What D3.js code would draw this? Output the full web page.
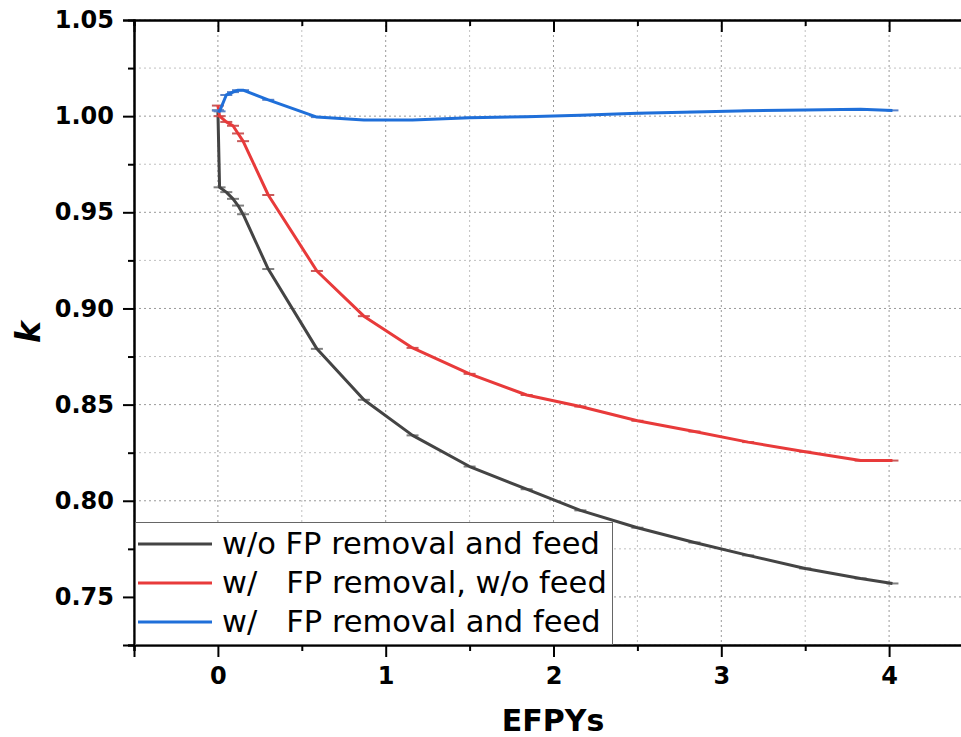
<!DOCTYPE html>
<html>
<head>
<meta charset="utf-8">
<script src="https://cdn.jsdelivr.net/npm/d3@7"></script>
<style>
  body { margin: 0; background: #fff; }
  svg { font-family: "DejaVu Sans", sans-serif; display: block; }
  .grid line { stroke-dasharray: 2,3; }
</style>
</head>
<body>
<svg id="chart" width="961" height="737"></svg>
<script>
// EFPYs shared by all three runs
var efpy = [0, 0.01, 0.05, 0.09, 0.12, 0.15, 0.3, 0.59, 0.87, 1.16, 1.5, 1.84, 2.16, 2.5, 2.84, 3.16, 3.5, 3.83, 4.02];

var kNoRemoval = [1.003, 0.963, 0.9605, 0.957, 0.9535, 0.949, 0.9205, 0.879, 0.8525, 0.834, 0.8178, 0.806, 0.795, 0.786, 0.7783, 0.7716, 0.7648, 0.7596, 0.757];
var kRemovalNoFeed = [1.0055, 1.000, 0.997, 0.995, 0.991, 0.987, 0.959, 0.9195, 0.896, 0.8795, 0.866, 0.855, 0.849, 0.8416, 0.836, 0.8305, 0.8255, 0.8209, 0.8209];
var kRemovalFeed = [1.003, 1.0025, 1.011, 1.0125, 1.0135, 1.0135, 1.0085, 0.9995, 0.998, 0.998, 0.9992, 0.9997, 1.0005, 1.0015, 1.0022, 1.0028, 1.0032, 1.0036, 1.003];

var seriesNames = ["w/o FP removal and feed", "w/   FP removal, w/o feed", "w/   FP removal and feed"];
var seriesColors = ["#444444", "#e83a3a", "#1f6fd9"];
var capColors = ["#808080", "#c85a5a", "#5a82c8"];

var xMajor = [0, 1, 2, 3, 4];
var xMinor = [-0.5, 0.5, 1.5, 2.5, 3.5, 4.5];
var yMajor = [0.75, 0.80, 0.85, 0.90, 0.95, 1.00, 1.05];
var yMinor = [0.725, 0.775, 0.825, 0.875, 0.925, 0.975, 1.025];

var svg = d3.select("#chart");
var pLeft = 134, pTop = 20, pBottom = 645, pRight = 973;

var x = d3.scaleLinear().domain([-0.5, 4.5]).range([pLeft, pRight]);
var y = d3.scaleLinear().domain([0.725, 1.05]).range([pBottom, pTop]);

// grid
var grid = svg.append("g").attr("class", "grid");
grid.selectAll("line.hy").data(yMajor.concat(yMinor)).enter().append("line")
    .attr("x1", pLeft).attr("x2", pRight)
    .attr("y1", d => y(d)).attr("y2", d => y(d))
    .attr("stroke", (d, i) => i < yMajor.length ? "#999" : "#c0c0c0")
    .attr("stroke-width", 1);
grid.selectAll("line.vx").data(xMajor.concat(xMinor)).enter().append("line")
    .attr("y1", pTop).attr("y2", pBottom)
    .attr("x1", d => x(d)).attr("x2", d => x(d))
    .attr("stroke", (d, i) => i < xMajor.length ? "#999" : "#c0c0c0")
    .attr("stroke-width", 1);

// series
var allK = [kNoRemoval, kRemovalNoFeed, kRemovalFeed];
var line = d3.line().x(d => x(d[0])).y(d => y(d[1]));

allK.forEach(function(k, s) {
    var pts = efpy.map((e, i) => [e, k[i]]);
    svg.append("g").selectAll("line").data(pts).enter().append("line")
        .attr("x1", d => x(d[0]) - 6).attr("x2", d => x(d[0]) + 6)
        .attr("y1", d => y(d[1])).attr("y2", d => y(d[1]))
        .attr("stroke", capColors[s]).attr("stroke-width", 2);
    svg.append("path").datum(pts)
        .attr("d", line)
        .attr("fill", "none")
        .attr("stroke", seriesColors[s])
        .attr("stroke-width", 3)
        .attr("stroke-linejoin", "round");
});

// axes
function styleAxis(g) {
    g.attr("font-size", 24).attr("font-family", "DejaVu Sans");
    g.select(".domain").attr("stroke", "#000").attr("stroke-width", 2);
    g.selectAll(".tick line").attr("stroke", "#000").attr("stroke-width", 2);
    g.selectAll("text").attr("font-weight", "bold").attr("fill", "#000");
}

svg.append("g").attr("transform", `translate(0,${pBottom})`)
    .call(d3.axisBottom(x).tickValues(xMinor).tickSize(6).tickFormat(""))
    .call(styleAxis);
svg.append("g").attr("transform", `translate(0,${pBottom})`)
    .call(d3.axisBottom(x).tickValues(xMajor).tickSize(12).tickPadding(10).tickFormat(d3.format("d")))
    .call(styleAxis);

svg.append("g").attr("transform", `translate(0,${pTop})`)
    .call(d3.axisBottom(x).tickValues(xMinor).tickSize(6).tickFormat(""))
    .call(styleAxis);
svg.append("g").attr("transform", `translate(0,${pTop})`)
    .call(d3.axisBottom(x).tickValues(xMajor).tickSize(12).tickFormat(""))
    .call(styleAxis);

svg.append("g").attr("transform", `translate(${pLeft},0)`)
    .call(d3.axisLeft(y).tickValues(yMinor).tickSize(6).tickFormat(""))
    .call(styleAxis);
svg.append("g").attr("transform", `translate(${pLeft},0)`)
    .call(d3.axisLeft(y).tickValues(yMajor).tickSize(11).tickPadding(9).tickFormat(d3.format(".2f")))
    .call(styleAxis);

// axis titles
svg.append("text")
    .attr("x", 553).attr("y", 731)
    .attr("text-anchor", "middle")
    .attr("font-size", 30).attr("font-weight", "bold")
    .text("EFPYs");
svg.append("text")
    .attr("transform", "translate(40,332) rotate(-90)")
    .attr("text-anchor", "middle")
    .attr("font-size", 33).attr("font-weight", "bold").attr("font-style", "italic")
    .text("k");

// legend
var lg = svg.append("g");
lg.append("rect")
    .attr("x", 135.5).attr("y", 522.5).attr("width", 477).attr("height", 122)
    .attr("fill", "#fff").attr("stroke", "#666").attr("stroke-width", 1);
seriesNames.forEach(function(name, i) {
    var yy = 544 + i * 39;
    lg.append("line")
        .attr("x1", 138).attr("x2", 212)
        .attr("y1", yy).attr("y2", yy)
        .attr("stroke", seriesColors[i]).attr("stroke-width", 3);
    lg.append("text")
        .attr("x", 222).attr("y", yy + 10)
        .attr("font-size", 30.5)
        .style("white-space", "pre")
        .text(name);
});
</script>
</body>
</html>
